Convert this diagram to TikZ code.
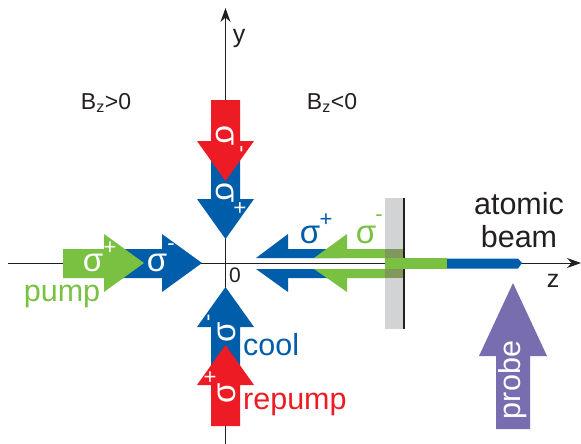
\documentclass[tikz,border=0pt]{standalone}
\usepackage{fontspec}
\setmainfont{Liberation Sans}
\usetikzlibrary{arrows.meta}
\definecolor{coolblue}{RGB}{0,93,170}
\definecolor{repumpred}{RGB}{237,28,36}
\definecolor{pumpgreen}{RGB}{122,193,66}
\definecolor{probeviolet}{RGB}{120,110,175}
\definecolor{plategray}{RGB}{209,211,212}
\definecolor{platedark}{RGB}{128,152,92}
\definecolor{inkblack}{RGB}{35,31,32}
\tikzset{
	axis/.style={draw=inkblack,line width=1pt,-{Stealth[length=14pt,width=10pt]}},
	lab/.style={inner sep=0pt,text=inkblack,font=\fontsize{25}{25}\selectfont},
	smalllab/.style={inner sep=0pt,text=inkblack,font=\fontsize{23}{23}\selectfont},
	biglab/.style={inner sep=0pt,font=\fontsize{30.5}{30.5}\selectfont},
	sig/.style={inner sep=0pt,text=white,font=\fontsize{33}{33}\selectfont},
	pol/.style={inner sep=0pt,text=white,font=\fontsize{22}{22}\selectfont}
}
\begin{document}
\begin{tikzpicture}[x=1pt,y=-1pt]
		\useasboundingbox (0,0) rectangle (581,444);
		\coordinate (z_0) at (8,263);
		\coordinate (z_1) at (581,263);
		\coordinate (y_0) at (225.5,444);
		\coordinate (y_1) at (225.5,8);
		\path[axis] (z_0) -- (z_1);
		\path[axis] (y_0) -- (y_1);
		% vertical beams
		\fill[coolblue] (211,160) -- (240,160) -- (240,199) -- (254,199) -- (225.5,239) -- (197,199) -- (211,199) -- cycle;
		\fill[repumpred] (211,100) -- (240,100) -- (240,141) -- (254,141) -- (225.5,181) -- (197,141) -- (211,141) -- cycle;
		\fill[coolblue] (211,370) -- (240,370) -- (240,327) -- (254,327) -- (225.5,287) -- (197,327) -- (211,327) -- cycle;
		\fill[repumpred] (211,426) -- (240,426) -- (240,385) -- (254,385) -- (225.5,345) -- (197,385) -- (211,385) -- cycle;
		% beams from the left
		\fill[coolblue] (120,249) -- (162,249) -- (162,234) -- (202,263) -- (162,292) -- (162,278) -- (120,278) -- cycle;
		\fill[pumpgreen] (63,249) -- (104,249) -- (104,234) -- (144,263) -- (104,292) -- (104,278) -- (63,278) -- cycle;
		% plate
		\fill[plategray] (385,198) rectangle (404,329);
		% beams from the right
		\fill[coolblue] (256,258) -- (288,234) -- (288,249) -- (340,249) -- (340,258) -- cycle;
		\fill[coolblue] (256,269) -- (288,292) -- (288,278) -- (340,278) -- (340,269) -- cycle;
		\fill[pumpgreen] (314,258) -- (347,234) -- (347,249) -- (385,249) -- (385,258) -- cycle;
		\fill[pumpgreen] (314,269) -- (347,292) -- (347,278) -- (385,278) -- (385,269) -- cycle;
		\fill[platedark] (385,249) rectangle (403,258);
		\fill[platedark] (385,269) rectangle (403,278);
		\draw[inkblack,line width=2pt] (403.5,198) -- (403.5,329);
		% atomic beam
		\fill[coolblue] (447,258.5) -- (518,258.5) -- (522,263) -- (518,268.5) -- (447,268.5) -- cycle;
		\fill[pumpgreen] (385,258) rectangle (447,269);
		% probe
		\fill[probeviolet] (496,429) -- (530,429) -- (530,356) -- (547,356) -- (513,283) -- (479,356) -- (496,356) -- cycle;
		\node[biglab,text=white,rotate=90] (probe) at (513,380) {probe};
		% polarisations
		\node[sig,rotate=-90] (s_r) at (225,136) {σ};
		\node[pol,rotate=-90] (p_r) at (239,149) {-};
		\node[sig,rotate=-90] (s_b) at (225,193) {σ};
		\node[pol,rotate=-90] (p_b) at (239,208) {+};
		\node[sig,rotate=90] (s_c) at (227,332) {σ};
		\node[pol,rotate=90] (p_c) at (211,318) {-};
		\node[sig,rotate=90] (s_u) at (227,393) {σ};
		\node[pol,rotate=90] (p_u) at (211,377) {+};
		\node[sig] (s_g) at (93,263) {σ};
		\node[pol] (p_g) at (110,248) {+};
		\node[sig] (s_l) at (157,263) {σ};
		\node[pol] (p_l) at (171,247) {-};
		\node[sig,text=coolblue] (s_m) at (310,235) {σ};
		\node[pol,text=coolblue] (p_m) at (326,220) {+};
		\node[sig,text=pumpgreen] (s_p) at (366,235) {σ};
		\node[pol,text=pumpgreen] (p_p) at (379,218) {-};
		% labels
		\node[biglab,text=pumpgreen] (pump) at (62,296) {pump};
		\node[biglab,text=coolblue,anchor=west] (cool) at (243,345) {cool};
		\node[biglab,text=repumpred,anchor=west] (repump) at (243,404) {repump};
		\node[biglab,text=inkblack] (atomic) at (519,204) {atomic};
		\node[biglab,text=inkblack] (beam) at (519,237) {beam};
		\node[lab] (z_lab) at (553,281) {z};
		\node[lab] (y_lab) at (239,38) {y};
		\node[lab,font=\fontsize{21}{21}\selectfont] (o_lab) at (235,275) {0};
		\node[smalllab] (b_pos) at (106,103) {B$_{\mathrm{z}}$>0};
		\node[smalllab] (b_neg) at (332,103) {B$_{\mathrm{z}}$<0};
		\end{tikzpicture}
\end{document}
